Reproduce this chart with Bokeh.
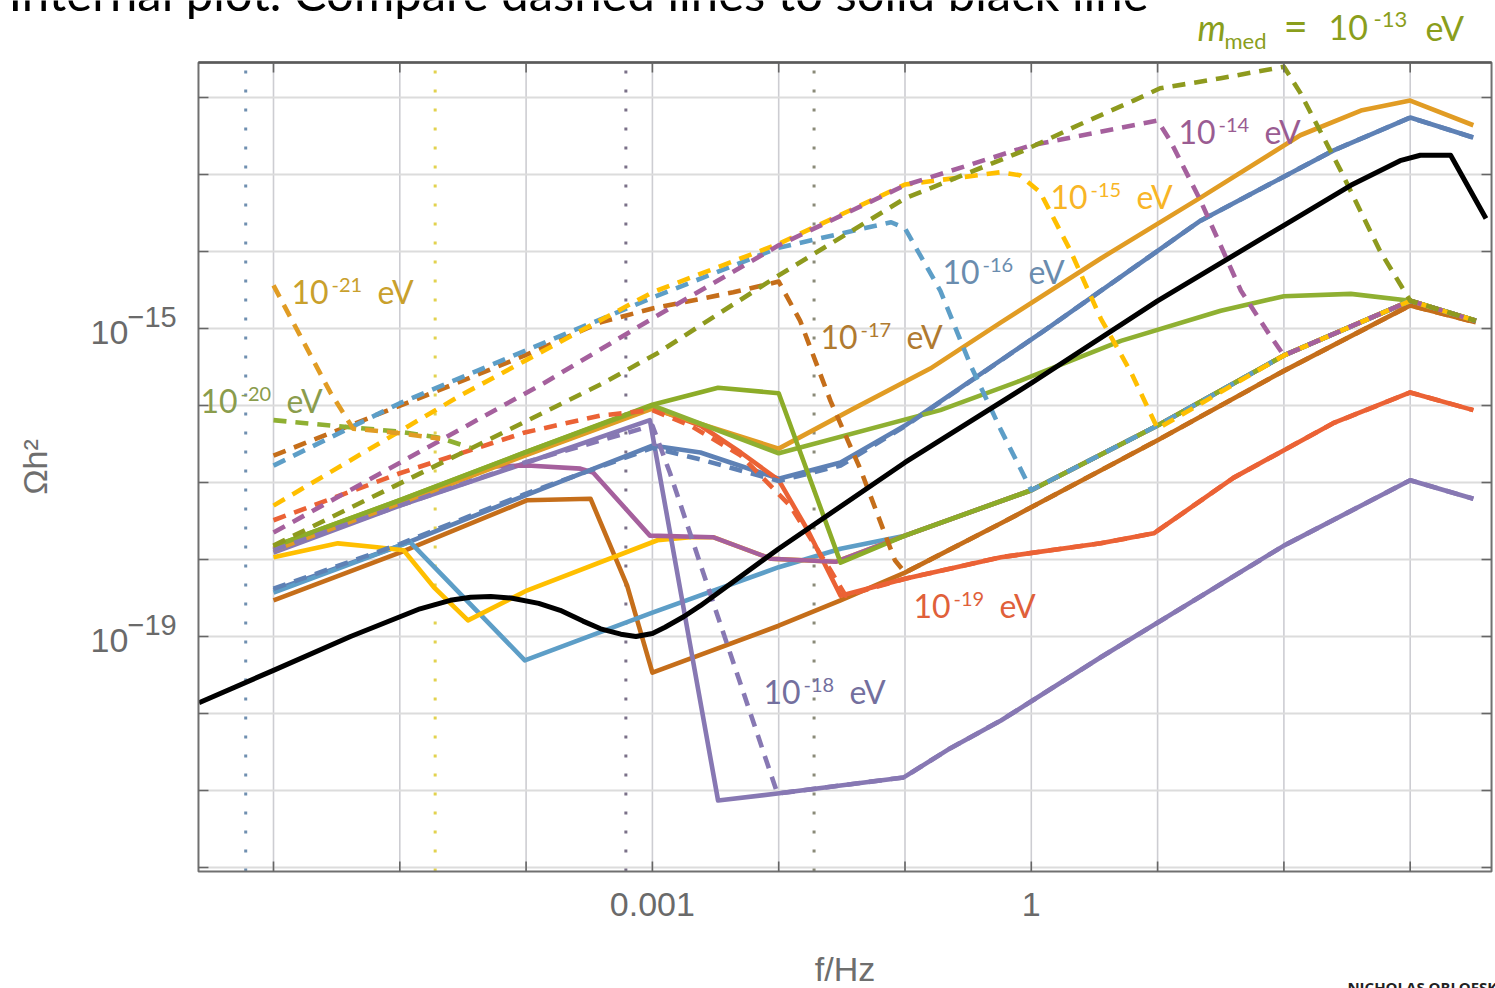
import numpy as np
from bokeh.plotting import figure
from bokeh.models import Range1d, Label
from bokeh.embed import file_html
from bokeh.resources import INLINE

# ---- plot box and decades (log10 f/Hz, log10 Omega h^2) ----
box_lf = (-6.594, 3.644)
box_lo = (-22.052, -11.545)
x_decades = list(range(-6, 4))
y_decades = list(range(-22, -11))
x_tick_text = {-3: "0.001", 0: "1"}
y_tick_text = {-15: "\u221215", -19: "\u221219"}

# ---- curves: log10(f/Hz) and log10(Omega h^2) ----
black_lf = [-6.59, -6.0, -5.39, -4.84, -4.60, -4.44, -4.28, -4.12, -3.90, -3.73, -3.55, -3.41, -3.25, -3.13,
            -3.0, -2.90, -2.75, -2.62, -2.0, -1.0, 0.0, 1.0, 2.0, 2.53, 2.92, 3.08, 3.32, 3.60]
black_lo = [-19.86, -19.44, -19.0, -18.64, -18.53, -18.49, -18.48, -18.50, -18.57, -18.66, -18.80, -18.90, -18.97, -19.0,
            -18.96, -18.88, -18.74, -18.60, -17.86, -16.74, -15.71, -14.64, -13.66, -13.14, -12.82, -12.75, -12.75, -13.57]

blue_lf = [-6.0, -5.0, -4.01, -3.0, -2.62, -2.0, -1.51, -1.0, 0.10, 1.34, 2.39, 3.0, 3.50]
blue_lo = [-18.40, -17.82, -17.17, -16.52, -16.61, -16.95, -16.74, -16.26, -15.03, -13.60, -12.69, -12.26, -12.52]
blue_dash_lf = [-6.0, -5.0, -4.01, -3.0, -2.62, -2.0, -1.51, -1.0, 0.10, 1.34, 2.39, 3.0, 3.50]
blue_dash_lo = [-18.38, -17.80, -17.15, -16.55, -16.70, -16.98, -16.78, -16.27, -15.03, -13.60, -12.69, -12.26, -12.52]

orange_lf = [-6.0, -5.0, -4.01, -3.0, -2.0, -1.43, -0.80, -0.24, 0.55, 1.34, 2.13, 2.61, 3.0, 3.50]
orange_lo = [-17.88, -17.27, -16.65, -16.04, -16.56, -16.06, -15.52, -14.92, -14.09, -13.30, -12.49, -12.17, -12.04, -12.36]
orange_dash_lf = [-6.0, -5.79, -5.55, -5.37, -5.0, -4.68]
orange_dash_lo = [-14.44, -15.09, -15.83, -16.30, -16.36, -16.43]

green_lf = [-6.0, -5.0, -4.01, -3.0, -2.0, -0.72, -0.09, 0.71, 1.50, 2.0, 2.53, 3.0, 3.52]
green_lo = [-17.83, -17.23, -16.61, -16.0, -16.62, -16.06, -15.68, -15.16, -14.77, -14.58, -14.55, -14.64, -14.90]
green_dash_lf = [-6.0, -5.55, -5.0, -4.68, -4.44]
green_dash_lo = [-16.19, -16.26, -16.34, -16.42, -16.55]

red_lf = [-6.0, -5.0, -4.01, -3.0, -2.62, -2.30, -2.0, -1.77, -1.51, -1.0, -0.24, 0.55, 0.97, 1.60, 2.39, 3.0, 3.50]
red_lo = [-17.86, -17.25, -16.64, -16.03, -16.26, -16.61, -16.97, -17.62, -18.47, -18.25, -17.97, -17.79, -17.66,
          -16.94, -16.23, -15.83, -16.06]
red_dash_lf = [-6.0, -5.0, -4.01, -3.41, -3.0, -2.70, -2.30, -1.91, -1.59, -1.47, -1.0, -0.24, 0.55, 0.97, 1.60,
               2.39, 3.0, 3.50]
red_dash_lo = [-17.49, -16.88, -16.35, -16.13, -16.06, -16.26, -16.65, -17.30, -18.14, -18.47, -18.25, -17.97,
               -17.79, -17.66, -16.94, -16.23, -15.83, -16.06]

purple_lf = [-6.0, -5.0, -4.01, -3.02, -2.48, -2.01, -1.01, -0.64, -0.24, 0.55, 2.0, 3.0, 3.50]
purple_lo = [-17.91, -17.30, -16.75, -16.19, -21.13, -21.04, -20.83, -20.45, -20.09, -19.27, -17.82, -16.97, -17.21]
purple_dash_lf = [-6.0, -5.0, -4.01, -3.0, -2.86, -2.48, -2.33, -2.01, -1.01, -0.64, -0.24, 0.55, 2.0, 3.0, 3.50]
purple_dash_lo = [-17.88, -17.30, -16.74, -16.26, -16.88, -18.75, -19.48, -21.04, -20.83, -20.45, -20.09, -19.27,
                  -17.82, -16.97, -17.21]

brown_lf = [-6.0, -5.0, -3.99, -3.49, -3.20, -3.0, -2.0, -1.51, -1.0, -0.24, 1.0, 2.0, 3.0, 3.52]
brown_lo = [-18.53, -17.91, -17.23, -17.21, -18.34, -19.47, -18.86, -18.53, -18.17, -17.53, -16.45, -15.55, -14.70, -14.92]
brown_dash_lf = [-6.0, -4.84, -4.01, -3.41, -3.0, -2.36, -2.0, -1.83, -1.59, -1.35, -1.08, -1.0, -0.24, 1.0, 2.0,
                 3.0, 3.52]
brown_dash_lo = [-16.65, -15.90, -15.35, -14.92, -14.74, -14.53, -14.39, -14.90, -15.94, -16.84, -18.01, -18.17,
                 -17.53, -16.45, -15.55, -14.70, -14.92]

lblue_lf = [-6.0, -4.92, -4.01, -3.0, -2.0, -1.51, -1.0, 0.0, 1.0, 2.0, 3.0, 3.52]
lblue_lo = [-18.43, -17.77, -19.31, -18.69, -18.10, -17.86, -17.69, -17.10, -16.26, -15.35, -14.64, -14.90]
lblue_dash_lf = [-6.0, -5.0, -4.01, -3.0, -2.0, -1.11, -1.0, -0.72, -0.48, -0.24, 0.0, 1.0, 2.0, 3.0, 3.52]
lblue_dash_lo = [-16.78, -15.97, -15.29, -14.60, -13.95, -13.62, -13.70, -14.51, -15.48, -16.32, -17.10, -16.26,
                 -15.35, -14.64, -14.90]

yellow_lf = [-6.0, -5.49, -5.18, -4.97, -4.73, -4.46, -3.99, -2.96, -2.70, -2.52, -2.06, -1.55, -1.0, 0.0, 1.0,
             2.0, 3.0, 3.52]
yellow_lo = [-17.97, -17.79, -17.84, -17.88, -18.36, -18.79, -18.40, -17.75, -17.71, -17.71, -17.99, -18.03, -17.69,
             -17.10, -16.26, -15.35, -14.64, -14.90]
yellow_dash_lf = [-6.0, -4.52, -4.01, -3.0, -2.0, -1.0, -0.24, -0.09, 0.07, 0.31, 0.55, 0.79, 1.0, 2.0, 3.0, 3.52]
yellow_dash_lo = [-17.30, -15.87, -15.42, -14.53, -13.90, -13.13, -12.97, -13.01, -13.23, -13.99, -14.87, -15.57,
                  -16.30, -15.35, -14.64, -14.90]

magenta_lf = [-6.0, -5.0, -4.28, -3.99, -3.57, -3.47, -3.02, -2.52, -2.06, -1.55, -1.0, 0.0, 1.0, 2.0, 3.0, 3.52]
magenta_lo = [-17.87, -17.26, -16.79, -16.78, -16.82, -16.87, -17.69, -17.71, -17.99, -18.03, -17.69, -17.10,
              -16.26, -15.35, -14.64, -14.90]
magenta_dash_lf = [-6.0, -3.86, -3.0, -2.0, -1.0, 0.0, 1.0, 1.10, 1.34, 1.66, 1.89, 2.0, 3.0, 3.52]
magenta_dash_lo = [-17.65, -15.71, -14.87, -13.92, -13.14, -12.62, -12.30, -12.56, -13.34, -14.51, -15.09, -15.35,
                   -14.64, -14.90]

olive_lf = [-6.0, -5.0, -4.01, -3.0, -2.48, -2.0, -1.51, -1.0, 0.0, 1.0, 2.0, 3.0, 3.52]
olive_lo = [-17.83, -17.23, -16.61, -15.99, -15.77, -15.84, -18.04, -17.69, -17.10, -16.26, -15.35, -14.64, -14.90]
olive_dash_lf = [-6.0, -4.44, -3.39, -2.96, -2.62, -2.0, -1.0, -0.06, 0.37, 0.81, 1.02, 1.50, 2.0, 2.13, 2.45,
                 2.76, 3.0, 3.52]
olive_dash_lo = [-17.82, -16.56, -15.71, -15.32, -14.96, -14.31, -13.31, -12.69, -12.36, -12.04, -11.88, -11.75,
                 -11.60, -11.94, -12.95, -13.99, -14.64, -14.90]

# vertical reference frequencies (log10 f/Hz)
ref_lf = [-6.22, -4.72, -3.21, -1.72]
ref_colors = ["#6f8fb0", "#e2d24e", "#7a7088", "#8a8a78"]

# mass labels: exponent, anchor (log10 f, log10 Omega h^2), colour
mass_exp = [21, 20, 19, 18, 17, 16, 15, 14]
mass_lf = [-5.857, -6.578, -0.933, -2.120, -1.669, -0.703, 0.152, 1.166]
mass_lo = [-14.675, -16.091, -18.753, -19.870, -15.260, -14.416, -13.442, -12.597]
mass_col = ["#C9A02C", "#8A9C4C", "#E0603A", "#736F9E", "#B07A30", "#6A8CAE", "#F8B526", "#9A5C92"]

C = dict(blue="#5E81B5", orange="#E19C24", green="#8FB032", red="#EB6235", purple="#8778B3",
         brown="#C56E1A", lblue="#5D9EC7", yellow="#FFBF00", magenta="#A5609D", olive="#8CAC28",
         olive_d="#8E9A1E")

# the drawing area covers the whole page; the framed plot box sits inside it
p = figure(width=1495, height=988, x_axis_type="log", y_axis_type="log",
           x_range=Range1d(10 ** -8.1615, 10 ** 3.6754), y_range=Range1d(10 ** -23.5714, 10 ** -10.740),
           output_backend="svg", toolbar_location=None, min_border=0)
p.axis.visible = False
p.grid.visible = False
p.outline_line_color = None
p.background_fill_color = "white"
p.border_fill_color = "white"

X0, X1 = 10 ** box_lf[0], 10 ** box_lf[1]
Y0, Y1 = 10 ** box_lo[0], 10 ** box_lo[1]
xd = [10.0 ** k for k in x_decades]
yd = [10.0 ** k for k in y_decades]

# grid
p.segment(xd, [Y0] * len(xd), xd, [Y1] * len(xd), line_color="#cdcdd2", line_width=1.6)
p.segment([X0] * len(yd), yd, [X1] * len(yd), yd, line_color="#dcdcdc", line_width=1.8)

# dotted reference frequencies
for lf, col in zip(ref_lf, ref_colors):
    p.segment([10 ** lf], [Y0], [10 ** lf], [Y1], line_color=col, line_width=3, line_dash="3 16")


def curve(lf, lo, color, dashed=False, width=4.6):
    p.line(10 ** np.array(lf), 10 ** np.array(lo), line_color=color, line_width=width,
           line_dash="13 9" if dashed else "solid", line_join="round")


# solid curves
curve(brown_lf, brown_lo, C["brown"])
curve(blue_lf, blue_lo, C["blue"])
curve(lblue_lf, lblue_lo, C["lblue"])
curve(yellow_lf, yellow_lo, C["yellow"])
curve(red_lf, red_lo, C["red"])
curve(purple_lf, purple_lo, C["purple"])
curve(magenta_lf, magenta_lo, C["magenta"])
curve(orange_lf, orange_lo, C["orange"])
curve(green_lf, green_lo, C["green"])
curve(olive_lf, olive_lo, C["olive"])

# dashed curves
curve(blue_dash_lf, blue_dash_lo, C["blue"], True)
curve(red_dash_lf, red_dash_lo, C["red"], True)
curve(purple_dash_lf, purple_dash_lo, C["purple"], True)
curve(brown_dash_lf, brown_dash_lo, C["brown"], True)
curve(lblue_dash_lf, lblue_dash_lo, C["lblue"], True)
curve(yellow_dash_lf, yellow_dash_lo, C["yellow"], True)
curve(magenta_dash_lf, magenta_dash_lo, C["magenta"], True)
curve(olive_dash_lf, olive_dash_lo, C["olive_d"], True)
curve(green_dash_lf, green_dash_lo, C["green"], True)
curve(orange_dash_lf, orange_dash_lo, C["orange"], True)

# reference curve
curve(black_lf, black_lo, "black", width=5)

# plot frame with inward ticks on all four sides
p.quad(left=[X0], right=[X1], bottom=[Y0], top=[Y1], fill_color=None, line_color="#707070", line_width=2)
p.segment([X0], [Y1], [X1], [Y1], line_color="#5a5a5a", line_width=2.4)
tick = dict(length=10, length_units="screen", line_color="#666666", line_width=1.6)
p.ray(xd, [Y0] * len(xd), angle=np.pi / 2, **tick)
p.ray(xd, [Y1] * len(xd), angle=-np.pi / 2, **tick)
p.ray([X0] * len(yd), yd, angle=0, **tick)
p.ray([X1] * len(yd), yd, angle=np.pi, **tick)


def label(x, y, text, size, color, dx=0, dy=0, font="Lato", style="normal", align="left",
          baseline="alphabetic", angle=0):
    # dy is the rise of the text baseline above the anchor, in pixels
    if baseline == "alphabetic":
        dy += 0.37 * size
    p.add_layout(Label(x=x, y=y, text=text, x_offset=dx, y_offset=dy, text_font=font,
                       text_font_size="%dpx" % size, text_color=color, text_font_style=style,
                       text_baseline=baseline, text_align=align, angle=angle))


# tick labels and axis titles
axis_grey = "#6a6a6a"
for k, t in x_tick_text.items():
    label(10.0 ** k, Y0, t, 34, axis_grey, dy=-46, font="Liberation Sans", align="center")
for k, sup in y_tick_text.items():
    label(X0, 10.0 ** k, "10", 34, axis_grey, dx=-108, dy=-17, font="Liberation Sans")
    label(X0, 10.0 ** k, sup, 29, axis_grey, dx=-71, dy=1, font="Liberation Sans")
label(10 ** ((box_lf[0] + box_lf[1]) / 2), Y0, "f/Hz", 34, "#6e6e6e", dy=-110,
      font="Liberation Sans", align="center")
label(X0, 10 ** ((box_lo[0] + box_lo[1]) / 2), "\u03a9h\u00b2", 34, "#6e6e6e", dx=-163,
      font="Liberation Sans", align="center", baseline="middle", angle=np.pi / 2)

# mass labels
for e, lx, ly, col in zip(mass_exp, mass_lf, mass_lo, mass_col):
    label(10 ** lx, 10 ** ly, "10", 32, col)
    label(10 ** lx, 10 ** ly, "-%d" % e, 20, col, dx=40, dy=11)
    label(10 ** lx, 10 ** ly, "eV", 32, col, dx=86)

# mediator mass label
mc = "#8A9E1C"
mx, my = 10 ** 1.316, 10 ** -11.26
label(mx, my, "m", 36, mc, style="italic")
label(mx, my, "med", 22, mc, dx=27, dy=-8)
label(mx, my, "=", 42, mc, dx=86)
label(mx, my, "10", 34, mc, dx=131)
label(mx, my, "-13", 22, mc, dx=176, dy=13)
label(mx, my, "eV", 34, mc, dx=228)

# slide heading and author line
label(10 ** -8.098, 10 ** -10.870, "Internal plot. Compare dashed lines to solid black line", 49, "black")
label(10 ** 2.503, 10 ** -23.62, "NICHOLAS ORLOFSKY", 15, "#222222", font="Open Sans", style="bold")

open("out.html", "w").write(file_html(p, INLINE))
